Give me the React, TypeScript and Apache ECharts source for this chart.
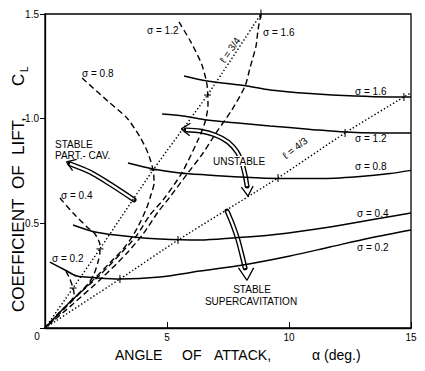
import React, { useEffect, useRef } from 'react';
import * as echarts from 'echarts';

type P = [number, number];

// Axis ticks
const X_TICKS = [0, 5, 10, 15];
const Y_TICKS = [0, 0.5, 1.0, 1.5];

// Supercavitating solutions (solid), CL vs alpha (deg)
const sc02: P[] = [[0.20,0.315],[0.82,0.277],[1.31,0.248],[1.97,0.241],[3.07,0.234],[4.71,0.244],[6.35,0.272],[8.11,0.301],[10.04,0.344],[11.68,0.387],[13.32,0.430],[15,0.468]];
const sc04: P[] = [[1.15,0.492],[2.05,0.459],[3.61,0.435],[4.71,0.425],[6.35,0.420],[7.70,0.430],[9.43,0.447],[11.68,0.483],[13.32,0.516],[15,0.549]];
const sc08: P[] = [[3.40,0.788],[4.43,0.760],[5.53,0.741],[6.64,0.731],[7.99,0.721],[9.55,0.714],[11.27,0.714],[12.91,0.724],[14.14,0.738],[15,0.753]];
const sc12: P[] = [[4.80,1.022],[5.66,1.013],[6.64,0.994],[7.90,0.979],[9.22,0.965],[10.80,0.950],[12.30,0.936],[13.73,0.932],[15,0.932]];
const sc16: P[] = [[5.70,1.204],[6.64,1.180],[8.28,1.156],[9.22,1.137],[10.86,1.120],[12.70,1.108],[14.14,1.104],[15,1.104]];

// Partially cavitating solutions (dashed)
const pc02: P[] = [[0.86,0.272],[1.02,0.234],[1.15,0.191],[1.19,0.162],[1.07,0.129],[0.53,0.067],[0,0]];
const pc04: P[] = [[0.61,0.621],[1.15,0.549],[1.72,0.483],[2.05,0.449],[2.25,0.397],[2.25,0.363],[2.17,0.315],[2.01,0.258],[1.76,0.210],[0.86,0.105],[0,0]];
const pc08: P[] = [[1.52,1.194],[2.66,1.075],[3.36,1.003],[3.89,0.913],[4.22,0.836],[4.43,0.755],[4.47,0.693],[4.34,0.635],[4.18,0.578],[3.89,0.502],[3.57,0.435],[3.20,0.377],[2.66,0.311],[1.76,0.205],[0.86,0.100],[0,0]];
const pc12: P[] = [[5.49,1.462],[5.98,1.366],[6.43,1.257],[6.64,1.161],[6.68,1.065],[6.56,0.984],[6.27,0.898],[5.61,0.741],[4.84,0.612],[4.30,0.540],[3.77,0.444],[3.16,0.363],[2.25,0.253],[1.02,0.124],[0,0]];
const pc16: P[] = [[8.85,1.500],[8.73,1.424],[8.65,1.348],[8.40,1.242],[8.20,1.156],[7.66,1.042],[7.01,0.932],[6.48,0.836],[5.86,0.741],[5.12,0.626],[4.63,0.554],[4.02,0.449],[3.36,0.358],[2.38,0.244],[1.15,0.115],[0,0]];

// Constant cavity length lines (dotted)
const l34: P[] = [[0,0],[1.15,0.191],[2.25,0.378],[4.43,0.755],[6.66,1.113],[8.85,1.5]];
const l43: P[] = [[0,0],[3.07,0.234],[5.45,0.420],[9.55,0.717],[12.30,0.932],[14.71,1.104],[15,1.123]];

// Tick marks where the cavity-length lines cross the curves
const ticks34: P[] = [[1.15,0.191],[2.25,0.378],[4.43,0.755],[6.66,1.113]];
const ticks34Top: P[] = [[8.85,1.5]];
const ticks43: P[] = [[3.07,0.234],[5.45,0.420],[9.55,0.717],[12.30,0.932],[14.71,1.104]];

// Annotation arrows (data coordinates)
const arrowPCShaft: P[] = [[1.02,0.784],[1.84,0.745],[2.66,0.688],[3.65,0.612]];
const arrowPCHead: P[] = [[1.13,0.752],[0.88,0.794],[1.30,0.806]];
const arrowUNShaft: P[] = [[5.78,0.946],[6.35,0.941],[6.97,0.922],[7.50,0.889],[7.87,0.841],[8.07,0.788],[8.20,0.731],[8.28,0.678]];
const arrowUNHeadA: P[] = [[5.93,0.918],[5.59,0.951],[5.96,0.978]];
const arrowUNHeadB: P[] = [[8.53,0.678],[8.32,0.630],[8.05,0.673]];
const arrowSCShaft: P[] = [[7.46,0.559],[7.70,0.492],[7.91,0.420],[8.07,0.349],[8.20,0.287]];
const arrowSCHead: P[] = [[7.93,0.287],[8.28,0.228],[8.55,0.287]];

const FF = "'Liberation Sans', Arial, Helvetica, sans-serif";
const INK = '#000';

const line = (data: P[], style: any, z = 3, smooth: number | boolean = 0.3) => ({
  type: 'line', data, symbol: 'none', smooth, silent: true, z,
  lineStyle: { color: INK, ...style },
});

const txt = (text: string, x: number, y: number, o: any = {}) => ({
  type: 'text', x, y, z: 100, rotation: o.rot || 0,
  style: {
    text, fontSize: o.size || 10, fontFamily: FF, fill: INK,
    align: o.align || 'left', verticalAlign: 'middle',
    textAlign: o.align || 'left', textVerticalAlign: 'middle',
    ...(o.bg ? { backgroundColor: o.bg, padding: [0, 1] } : {}),
  },
});

const DEG = Math.PI / 180;

export default function App() {
  const ref = useRef<HTMLDivElement>(null);
  useEffect(() => {
    document.body.style.margin = '0';
    const chart = echarts.init(ref.current!, undefined, { renderer: 'svg' });
    const solidS = { width: 1.5 };
    const dashS = { width: 1.4, type: [6, 3.5] };
    const dotS = { width: 1.4, type: [1.4, 2.2] };
    const outer = { width: 5, cap: 'round' };
    const inner = { width: 2.2, color: '#fff', cap: 'butt' };
    const head = { width: 1.3 };
    const option: any = {
      animation: false,
      textStyle: { fontFamily: FF },
      grid: { left: 45, top: 14, right: 14, bottom: 43, show: true, borderColor: '#000', borderWidth: 1.3 },
      xAxis: {
        type: 'value', min: X_TICKS[0], max: X_TICKS[X_TICKS.length - 1], interval: 5,
        axisLine: { show: true, lineStyle: { color: '#000', width: 1.3 } },
        axisTick: { show: true, inside: true, length: 6, lineStyle: { color: '#000' } },
        axisLabel: { margin: 4, color: INK, fontSize: 10, fontFamily: FF, formatter: (v: number) => (v === 0 ? '' : String(v)) },
        splitLine: { show: false },
      },
      yAxis: {
        type: 'value', min: Y_TICKS[0], max: Y_TICKS[Y_TICKS.length - 1], interval: 0.5,
        axisLine: { show: true, lineStyle: { color: '#000', width: 1.3 } },
        axisTick: { show: true, inside: false, length: 5, lineStyle: { color: '#000' } },
        axisLabel: { margin: 6, color: INK, fontSize: 10, fontFamily: FF, formatter: (v: number) => (v === 0 ? '' : v.toFixed(1)) },
        splitLine: { show: false },
      },
      series: [
        // arrows (double lines)
        line(arrowPCShaft, outer, 1), line(arrowPCShaft, inner, 1),
        line(arrowUNShaft, outer, 1), line(arrowUNShaft, inner, 1),
        line(arrowSCShaft, outer, 1), line(arrowSCShaft, inner, 1),
        line(arrowPCHead, head, 2, false), line(arrowUNHeadA, head, 2, false),
        line(arrowUNHeadB, head, 2, false), line(arrowSCHead, head, 2, false),
        // solid
        line(sc02, solidS), line(sc04, solidS), line(sc08, solidS), line(sc12, solidS), line(sc16, solidS),
        // dashed
        line(pc02, dashS, 3, 0.25), line(pc04, dashS, 3, 0.25), line(pc08, dashS, 3, 0.25),
        line(pc12, dashS, 3, 0.25), line(pc16, dashS, 3, 0.25),
        // dotted
        line(l34, dotS, 3, 0.2), line(l43, dotS, 3, 0.2),
        // ticks
        { type: 'scatter', data: ticks34, symbol: 'rect', symbolSize: [7, 1.3], itemStyle: { color: INK }, silent: true, z: 4, clip: false },
        { type: 'scatter', data: ticks34Top, symbol: 'rect', symbolSize: [1.3, 9], itemStyle: { color: INK }, silent: true, z: 4, clip: false },
        { type: 'scatter', data: ticks43, symbol: 'rect', symbolSize: [1.3, 8], itemStyle: { color: INK }, silent: true, z: 4, clip: false },
      ],
      graphic: [
        txt('σ = 1.2', 147, 30),
        txt('σ = 0.8', 82, 73),
        txt('σ = 1.6', 263, 32),
        txt('σ = 0.4', 61, 195),
        txt('σ = 0.2', 52, 258),
        txt('σ = 1.6', 355, 91),
        txt('σ = 1.2', 355, 138),
        txt('σ = 0.8', 355, 166),
        txt('σ = 0.4', 357, 213),
        txt('σ = 0.2', 357, 247),
        txt('ℓ = 3/4', 230, 50, { align: 'center', rot: 55 * DEG }),
        txt('ℓ = 4/3', 295, 148, { align: 'center', rot: 38 * DEG }),
        txt('STABLE', 55, 144),
        txt('PART.- CAV.', 55, 155),
        txt('UNSTABLE', 212, 161, { bg: '#fff' }),
        txt('STABLE', 252, 289, { align: 'center' }),
        txt('SUPERCAVITATION', 251, 301, { align: 'center' }),
        txt('0', 37, 336, { align: 'center' }),
        txt('ANGLE', 115, 355, { size: 14 }),
        txt('OF', 182, 355, { size: 14 }),
        txt('ATTACK,', 214, 355, { size: 14 }),
        txt('α (deg.)', 312, 355, { size: 14 }),
        txt('COEFFICIENT', 18, 312, { size: 17, rot: 90 * DEG }),
        txt('OF', 18, 189, { size: 17, rot: 90 * DEG }),
        txt('LIFT,', 18, 155, { size: 17, rot: 90 * DEG }),
        txt('C', 18, 86, { size: 17, rot: 90 * DEG }),
        txt('L', 24, 72, { size: 10, rot: 90 * DEG }),
      ],
    };
    chart.setOption(option);
    return () => chart.dispose();
  }, []);
  return <div ref={ref} style={{ width: 425, height: 371, position: 'absolute', left: 0, top: 0, background: '#fff' }} />;
}
